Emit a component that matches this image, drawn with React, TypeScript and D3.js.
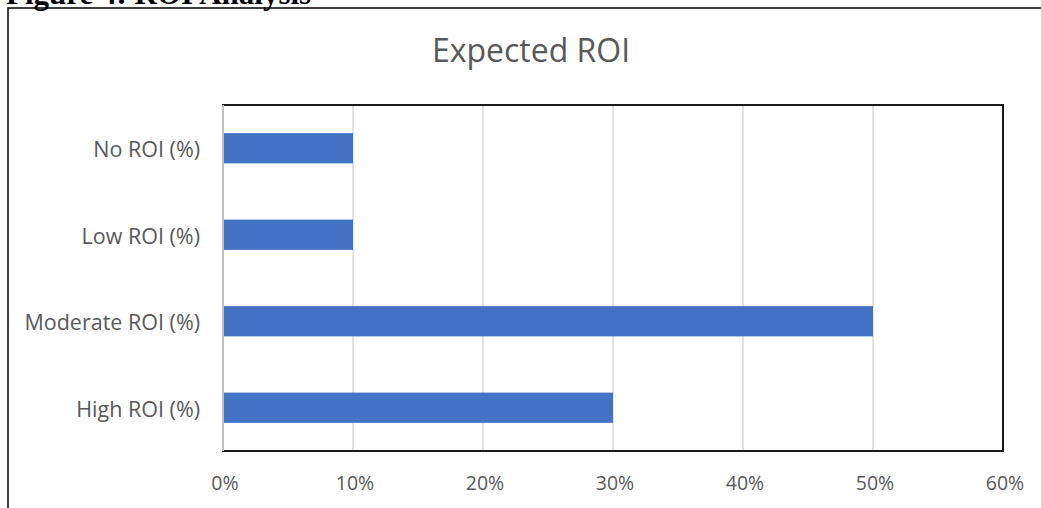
import React from "react";
import * as d3 from "d3";

const categories = ["No ROI (%)", "Low ROI (%)", "Moderate ROI (%)", "High ROI (%)"];
const values = [10, 10, 50, 30];
const xTicks = [0, 10, 20, 30, 40, 50, 60];
const title = "Expected ROI";
const caption = "Figure 4: ROI Analysis";

export default function App() {
  const W = 1041, H = 508;
  const left = 223, right = 1003, top = 105, bottom = 451;
  const x = d3.scaleLinear().domain([0, 60]).range([left, right]);
  const y = d3.scaleBand().domain(categories).range([top, bottom]).paddingInner(0.65).paddingOuter(0.325);
  const font = "'Open Sans', sans-serif";
  return (
    <svg width={W} height={H} style={{ position: "absolute", left: 0, top: 0 }}>
      <rect width={W} height={H} fill="#fff" />
      <text x={6} y={4} fontFamily="'Liberation Serif', serif" fontWeight="bold" fontSize={31} fill="#000">{caption}</text>
      <path d={`M8,${H} V8 H${W}`} fill="none" stroke="#000" strokeWidth={1.5} />
      <text x={531} y={62} textAnchor="middle" fontFamily={font} fontSize={32} fill="#595959">{title}</text>
      {xTicks.map((t) => (
        <line key={t} x1={x(t)} x2={x(t)} y1={top} y2={bottom} stroke="#d9d9d9" strokeWidth={1.5} />
      ))}
      {categories.map((c, i) => (
        <rect key={c} x={x(0)} y={y(c)} width={x(values[i]) - x(0)} height={y.bandwidth()} fill="#4472C4" />
      ))}
      <rect x={left} y={top} width={right - left} height={bottom - top} fill="none" stroke="#1a1a1a" strokeWidth={2} />
      <line x1={left} x2={left} y1={top} y2={bottom} stroke="#bfbfbf" strokeWidth={2} />
      {categories.map((c) => (
        <text key={c} x={200} y={(y(c) as number) + y.bandwidth() / 2 + 9} textAnchor="end" fontFamily={font} fontSize={21.5} fill="#595959">{c}</text>
      ))}
      {xTicks.map((t) => (
        <text key={t} x={x(t) + 2} y={490} textAnchor="middle" fontFamily={font} fontSize={19.5} fill="#595959">{t + "%"}</text>
      ))}
    </svg>
  );
}
